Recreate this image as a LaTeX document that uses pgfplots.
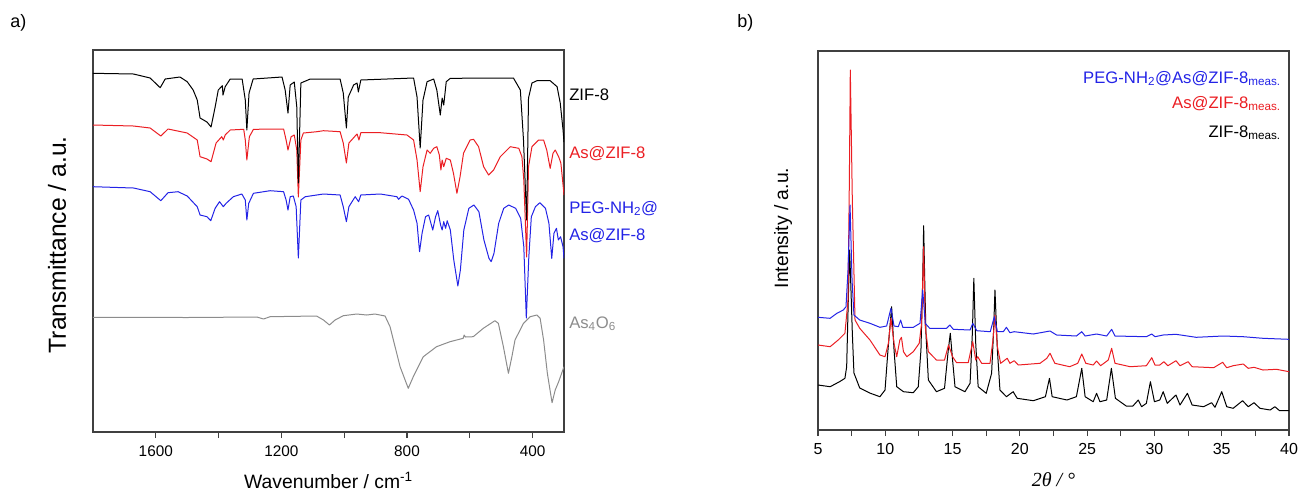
\documentclass[border=0pt]{standalone}
\usepackage{fontspec}
\setmainfont{Liberation Sans}
\newfontfamily\seriffont{Liberation Serif}
\usepackage{pgfplots}
\pgfplotsset{compat=1.18}

\definecolor{spred}{RGB}{235,30,35}
\definecolor{spblue}{RGB}{35,35,230}
\definecolor{spgray}{RGB}{140,140,140}

\newcommand{\lab}{\fontsize{12.5}{14}\selectfont}

\pgfplotsset{
  panel/.style={
    scale only axis,
    width=353.25pt,
    anchor=south west,
    axis line style={line width=0.9pt, black!75},
    tick style={line width=0.8pt, black!75},
    tick align=outside,
    xtick pos=lower,
    ytick=\empty,
    major tick length=4.5pt,
    minor tick length=4.5pt,
    /pgf/number format/assume math mode=true,
    /pgf/number format/1000 sep={},
    every axis plot/.append style={line width=0.75pt, line join=round},
  },
}

\begin{document}
\begin{tikzpicture}
\path[use as bounding box] (0,0) rectangle (973.5pt,-367.5pt);

% ---------- a) FTIR ----------
\begin{axis}[panel,
  at={(69.75pt,-324pt)},
  height=286.5pt,
  x dir=reverse,
  xmin=300, xmax=1800, ymin=0, ymax=382,
  xtick={400,800,1200,1600},
  minor xtick={600,1000,1400},
  xticklabel style={font=\fontsize{11.5}{12}\selectfont, yshift=-2pt},
  xlabel={Wavenumber / cm\textsuperscript{-1}},
  xlabel style={font=\fontsize{14.5}{16}\selectfont, at={(axis description cs:0.5,-0.147)}, anchor=base},
  ylabel={Transmittance / a.u.},
  ylabel style={font=\fontsize{18.5}{20}\selectfont, at={(axis description cs:-0.0764,0.49)}, anchor=center},
]
% As4O6
\addplot[spgray] coordinates {
(1800,114.7) (1500,114.5) (1278,115) (1257,113) (1236,115.3) (1088,116) (1066,112)
(1047,107) (1029,112) (1003,116.3) (960,118) (928,117) (902,118) (870,116)
(854,105.3) (838,85.3) (822,65.3) (796,43.7) (780,55.3) (748,75.3) (706,85.3)
(663,90.3) (621,93.7) (618,97) (614,95) (589,95.3) (557,103.7) (520,111.3)
(509,108.7) (493,85.3) (477,58.7) (466,75.3) (456,92) (429,108.7) (408,115.3)
(386,117) (376,113.7) (365,92) (353,58.7) (338,29.3) (328,42) (317,50.3) (300,65.3)};
% PEG-NH2@As@ZIF-8
\addplot[spblue] coordinates {
(1800,245.3) (1671,244) (1618,240.3) (1584,231.3) (1561,239.3) (1529,240.3) (1500,236)
(1468,225.3) (1459,217) (1437,215.3) (1425,211.3) (1411,223.7) (1397,230.3) (1385,225.3)
(1376,228.7) (1353,235.3) (1326,238) (1315,232) (1310,212) (1304,228.7) (1289,238.7)
(1236,241.3) (1193,240.3) (1185,232) (1179,222) (1172,235.3) (1162,236) (1153,225.3)
(1146,174) (1138,232) (1124,235.3) (1066,238) (1013,237) (1003,225.3) (993,210.3)
(985,225.3) (965,235.3) (954,230.3) (947,237) (885,238) (832,235.3) (827,232.7)
(816,236) (795,232.7) (779,222) (768,208.7) (760,180.3) (752,198.7) (741,215.3)
(731,217) (718,202) (709,215.3) (702,221.3) (693,207) (688,202) (683,210.3)
(677,203.7) (672,211.3) (662,202) (651,172) (638,146) (630,162) (619,202)
(603,223.7) (587,227) (571,220.3) (555,192) (539,173.7) (532,170.3) (523,178.7)
(508,208.7) (492,223.7) (476,227) (454,223.7) (438,213.7) (428,185.3) (420,114)
(412,175.3) (404,215.3) (391,225.3) (377,229.3) (359,223.7) (348,208.7) (339,173.7)
(332,198.7) (324,203.7) (318,192) (311,195.3) (303,185.3) (300,173.7)};
% As@ZIF-8
\addplot[spred] coordinates {
(1800,307) (1671,306) (1618,304) (1584,296) (1561,303) (1500,299) (1468,292)
(1459,275.3) (1437,273) (1424,270.3) (1408,289) (1390,295.3) (1385,292) (1379,297)
(1363,302) (1320,302.7) (1315,292) (1310,272) (1302,295.3) (1289,302.7) (1193,303)
(1185,292) (1179,282) (1169,295.3) (1159,297) (1151,282) (1146,235) (1138,292)
(1130,299) (1087,300.3) (1066,301.3) (1013,300.3) (1003,289) (993,269) (985,289)
(965,296) (959,298) (953,292) (947,299.3) (885,299.3) (800,297) (779,292) (768,272)
(758,240.3) (749,265.3) (736,282) (726,278.7) (715,283.7) (705,285.3) (697,277)
(692,262) (688,272) (683,265.3) (675,273.7) (662,272) (652,258.7) (641,238.7)
(631,255.3) (620,278.7) (599,292) (588,292.7) (572,285.3) (556,265.3) (540,257)
(524,262) (503,275.3) (471,285.3) (444,283.7) (434,275.3) (428,252) (419,175)
(413,265.3) (402,285.3) (381,292) (365,292) (355,282) (344,263.7) (335,278.7)
(328,282) (317,275.3) (310,269) (302,244) (300,237)};
% ZIF-8
\addplot[black] coordinates {
(1800,358.7) (1671,358) (1618,354) (1586,344.3) (1570,353) (1523,355) (1500,350.3)
(1481,342) (1468,332) (1459,314) (1437,310) (1424,305) (1411,325) (1401,342)
(1388,346.3) (1386,337) (1379,345.3) (1363,353) (1325,353) (1315,332) (1310,302)
(1303,339) (1290,353) (1198,355) (1188,342) (1179,319) (1172,347) (1159,350)
(1151,325) (1146,249) (1138,349) (1108,353) (1013,353) (1003,339) (993,304)
(987,335) (970,347) (959,349) (955,340) (947,352) (779,354) (768,335) (758,284)
(749,332) (736,350.3) (715,353) (705,342) (694,317) (688,334) (683,327) (675,350.3)
(662,353.7) (461,354) (439,342) (429,292) (419,212) (413,334) (402,349) (386,351.3)
(344,351.3) (322,345.3) (312,329) (303,302) (300,290)};
\end{axis}

% ---------- b) XRD ----------
\begin{axis}[panel,
  at={(613.5pt,-322.5pt)},
  height=284.25pt,
  xmin=5, xmax=40, ymin=0, ymax=379,
  xtick={5,10,...,40},
  minor x tick num=1,
  xticklabel style={font=\fontsize{12}{13}\selectfont, yshift=-2pt},
  xlabel={\seriffont\itshape 2θ / °},
  xlabel style={font=\fontsize{15}{16}\selectfont, at={(axis description cs:0.5,-0.150)}, anchor=base},
  ylabel={Intensity / a.u.},
  ylabel style={font=\fontsize{14.5}{16}\selectfont, at={(axis description cs:-0.0743,0.533)}, anchor=center},
]
% ZIF-8 meas.
\addplot[black] coordinates {
(5,45) (5.9,43.3) (6.6,48.3) (7.0,51.7) (7.13,63.3) (7.25,130) (7.35,180) (7.45,140)
(7.55,97) (7.67,57) (8.1,42) (8.9,36.7) (9.6,33.3) (9.98,40) (10.2,80) (10.47,123.3)
(10.65,80) (10.85,43.3) (11.35,38.3) (12.08,37.3) (12.45,43.3) (12.65,80) (12.78,150)
(12.85,204.3) (12.93,150) (13.02,97) (13.2,50) (13.8,38.3) (14.4,41.7) (14.68,80)
(14.83,96.7) (15.0,70) (15.18,43.3) (15.92,38.3) (16.3,46.7) (16.47,97) (16.58,151.7)
(16.72,86.7) (16.9,43.3) (17.5,36.7) (17.9,56.7) (18.05,100) (18.15,140) (18.33,80)
(18.52,40) (19.0,33.3) (19.5,38.3) (19.8,31.7) (21.0,29.3) (21.9,33.3) (22.2,51.7)
(22.4,33.3) (23.5,30) (24.2,33.3) (24.6,61.7) (24.85,33.3) (25.45,28.3) (25.7,36.7)
(25.95,28.3) (26.45,30) (26.8,61.7) (27.1,31.7) (27.9,24) (28.4,24) (28.8,30)
(29.05,23.3) (29.4,26.7) (29.7,48.3) (30.0,28.3) (30.4,30) (30.65,38.3) (30.95,26.7)
(31.6,35) (31.9,25) (32.45,36.7) (32.8,25) (33.65,23.3) (34.25,27.3) (34.5,22.7)
(35.0,38.3) (35.37,23.3) (35.85,21.7) (36.55,29.3) (36.97,23.3) (37.4,27.3)
(37.84,21.7) (38.6,20) (38.95,23.3) (39.3,19.3) (40,19.3)};
% As@ZIF-8 meas.
\addplot[spred] coordinates {
(5,85) (5.9,83.3) (6.5,90) (7.0,96.7) (7.23,130) (7.33,250) (7.4,360) (7.47,300)
(7.55,230) (7.75,110) (8.1,101.7) (8.86,90) (9.6,75) (9.98,73.3) (10.23,86.7)
(10.42,111.7) (10.65,86.7) (10.85,73.3) (11.08,90) (11.2,92.7) (11.35,78.3) (11.6,73.3)
(12.08,78.3) (12.52,86.7) (12.7,106.7) (12.85,183.3) (12.97,103.3) (13.2,78.3)
(13.8,70) (14.4,70) (14.7,85) (15.0,73.3) (15.3,67.3) (16.16,67.3) (16.5,88.3)
(16.72,70) (16.87,73.3) (17.16,66.7) (17.78,66.7) (18.0,90) (18.15,115) (18.33,83.3)
(18.57,66.7) (19.06,71.7) (19.26,66.7) (19.58,69.3) (19.88,65) (21.5,66.7) (22.0,71.7)
(22.24,76.7) (22.6,66.7) (23.7,63.3) (24.3,66.7) (24.6,76) (24.9,66.7) (25.45,65)
(25.7,69) (26.0,64.3) (26.57,70) (26.82,81.7) (27.07,66.7) (28.2,63.3) (29.4,64.3)
(29.8,72.3) (30.04,65) (30.4,65) (30.7,68.3) (31.0,64.3) (31.6,69.3) (31.9,64.3)
(32.5,68.3) (32.8,63.3) (34.4,62.3) (35.07,67.7) (35.37,62.3) (35.85,64.3) (36.6,66)
(36.97,61.7) (37.4,62.7) (38.07,60) (39.07,60.7) (40,58.3)};
% PEG-NH2@As@ZIF-8 meas.
\addplot[spblue] coordinates {
(5,112.7) (5.9,111.7) (6.4,116.7) (6.88,120) (7.08,123.3) (7.23,160) (7.38,225)
(7.53,150) (7.67,115) (8.1,110) (8.86,106.7) (9.6,102.7) (10.1,104) (10.42,121.7)
(10.65,104) (10.97,103.3) (11.14,110) (11.3,102.7) (12.08,102.7) (12.58,106.7)
(12.78,140) (12.97,106.7) (13.3,101.7) (14.55,101.7) (14.8,105) (15.05,100.7)
(16.3,100) (16.5,106.7) (16.8,99.3) (17.8,98.3) (18.1,113.3) (18.33,98.3) (18.77,98.3)
(19.0,102.7) (19.26,97.3) (19.58,98.3) (21.0,96) (22.24,99) (22.73,95) (24.2,94)
(24.6,98.3) (24.85,94) (25.7,96) (26.45,94) (26.82,100.7) (27.07,94) (29.4,93.3)
(29.8,96) (30.04,93.3) (30.65,95) (31.6,95.7) (33.1,92.7) (35.1,94) (36.6,93.3)
(38.07,91.7) (40,90.7)};
\end{axis}

% ---------- labels (pixel frame) ----------
\begin{scope}[x=0.75pt,y=-0.75pt]
\node[anchor=base west, font=\fontsize{13.5}{15}\selectfont, inner sep=0] at (10,27) {a)};
\node[anchor=base west, font=\fontsize{13.5}{15}\selectfont, inner sep=0] at (737,27) {b)};
\node[anchor=base west, font=\lab, inner sep=0] at (569,100) {ZIF-8};
\node[anchor=base west, font=\lab, inner sep=0, text=spred] at (569,158) {As@ZIF-8};
\node[anchor=base west, font=\lab, inner sep=0, text=spblue] at (569,213) {PEG-NH\textsubscript{2}@};
\node[anchor=base west, font=\lab, inner sep=0, text=spblue] at (569,240) {As@ZIF-8};
\node[anchor=base west, font=\lab, inner sep=0, text=spgray] at (569,328) {As\textsubscript{4}O\textsubscript{6}};
\node[anchor=base east, font=\lab, inner sep=0, text=spblue] at (1281,83) {PEG-NH\textsubscript{2}@As@ZIF-8\textsubscript{meas.}};
\node[anchor=base east, font=\lab, inner sep=0, text=spred] at (1281,108) {As@ZIF-8\textsubscript{meas.}};
\node[anchor=base east, font=\lab, inner sep=0] at (1281,137.5) {ZIF-8\textsubscript{meas.}};
\end{scope}
\end{tikzpicture}
\end{document}
